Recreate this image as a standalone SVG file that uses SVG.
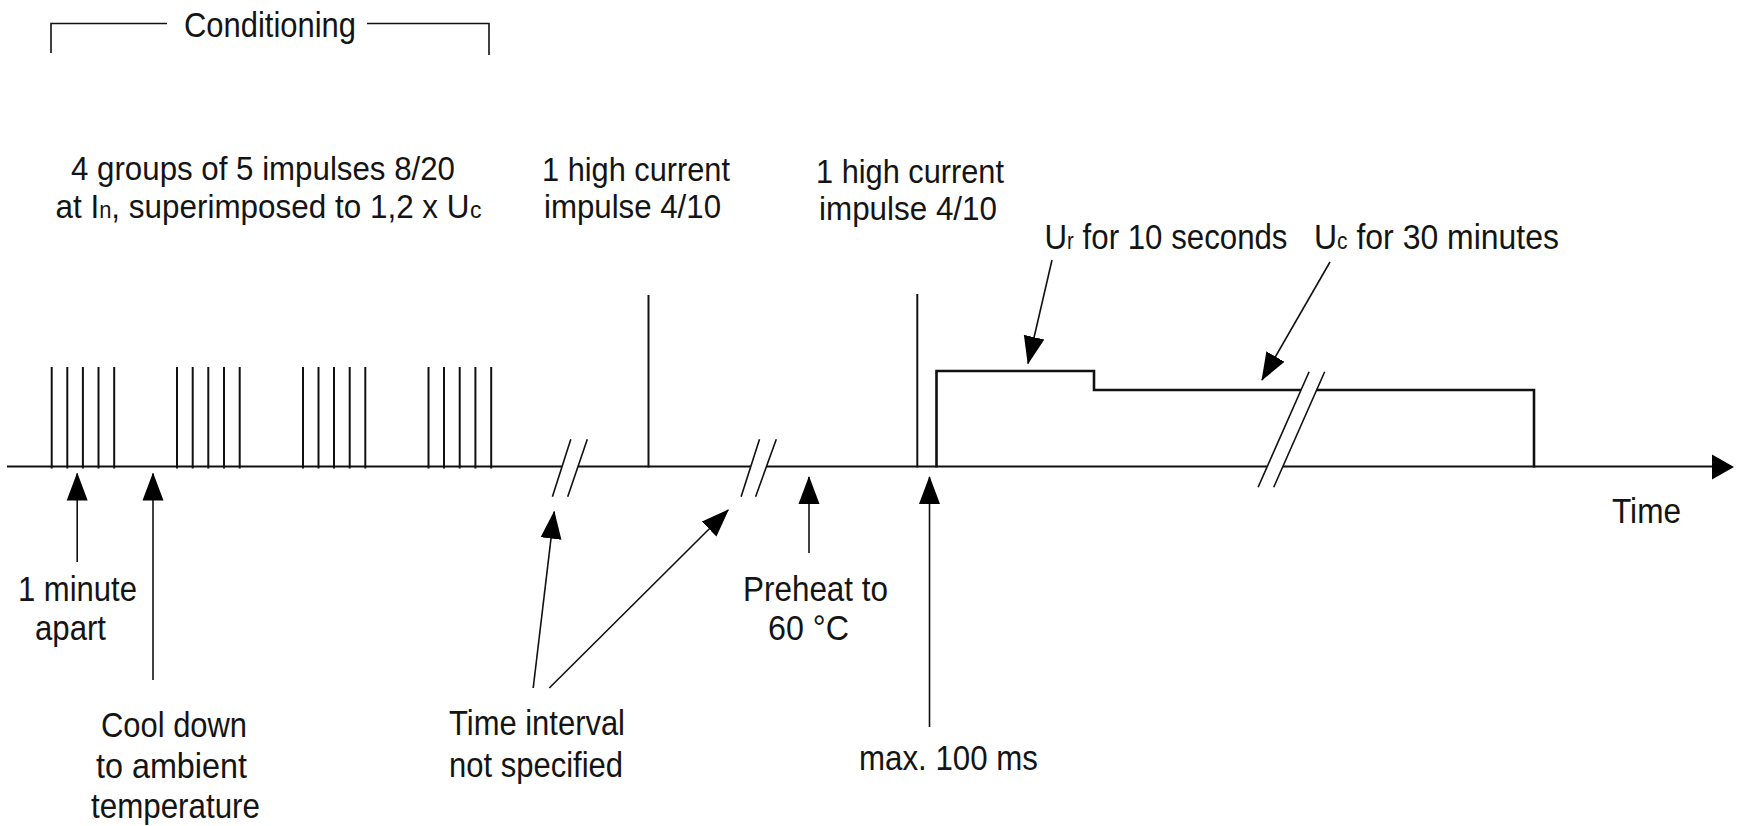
<svg xmlns="http://www.w3.org/2000/svg" width="1740" height="826" viewBox="0 0 1740 826">
<style>
  text { font-family: "Liberation Sans", Arial, sans-serif; font-size: 35px; fill: #141414; }
  .top { font-size: 33px; }
  .sub { font-size: 23px; }
  .ln { stroke: #111; stroke-width: 2; fill: none; }
  .thin { stroke: #111; stroke-width: 1.6; fill: none; }
  .wave { stroke: #111; stroke-width: 2.6; fill: none; stroke-linejoin: miter; }
  .ann { stroke: #111; stroke-width: 1.6; fill: none; marker-end: url(#ah); }
</style>
<defs>
  <marker id="ah" viewBox="0 0 28 22" refX="27" refY="11" markerWidth="28" markerHeight="22" orient="auto" markerUnits="userSpaceOnUse">
    <path d="M0,0.5 L28,11 L0,21.5 Z" fill="#000"/>
  </marker>
</defs>
<rect width="1740" height="826" fill="#fff"/>

<!-- Conditioning bracket -->
<g id="conditioning">
  <polyline class="thin" points="51,53 51,23.5 167,23.5"/>
  <polyline class="thin" points="367,23.5 489,23.5 489,55"/>
  <text x="184" y="37" textLength="172" lengthAdjust="spacingAndGlyphs">Conditioning</text>
</g>

<!-- Time axis -->
<g id="axis">
  <path class="ln" d="M7,466.5 H562 M578,466.5 H751 M767,466.5 H1267 M1283,466.5 H1714"/>
  <polygon points="1734,467 1712,454.5 1712,479.5" fill="#000"/>
  <text x="1612" y="523" textLength="69" lengthAdjust="spacingAndGlyphs">Time</text>
</g>

<!-- Break marks -->
<g id="breaks">
  <path class="thin" d="M552.4,496.7 L570.8,439.3 M567.7,496.7 L587.3,439.3"/>
  <path class="thin" d="M741.1,496.7 L759.5,439.3 M755.6,496.7 L776.3,439.3"/>
  <path class="thin" d="M1258.1,487.3 L1309.1,371.7 M1273.7,487.3 L1324.7,371.7"/>
</g>

<!-- Impulse groups 8/20 -->
<g id="impulse-groups">
  <path class="ln" d="M51.7,367 V468.5 M67.3,367 V468.5 M82.9,367 V468.5 M98.5,367 V468.5 M114.2,367 V468.5
                      M177,367 V468.5 M192.7,367 V468.5 M208.3,367 V468.5 M224,367 V468.5 M239.7,367 V468.5
                      M303,367 V468.5 M318.5,367 V468.5 M334,367 V468.5 M349.7,367 V468.5 M365.3,367 V468.5
                      M428.5,367 V468.5 M444,367 V468.5 M459.7,367 V468.5 M475.4,367 V468.5 M491.2,367 V468.5"/>
  <text class="top" x="71" y="180" textLength="384" lengthAdjust="spacingAndGlyphs">4 groups of 5 impulses 8/20</text>
  <text class="top" x="55.5" y="217.5" textLength="414" lengthAdjust="spacingAndGlyphs">at I<tspan class="sub">n</tspan>, superimposed to 1,2 x U</text>
  <text class="sub" x="470" y="217.5">c</text>
</g>

<!-- High current impulse 1 -->
<g id="impulse-hc-1">
  <path class="ln" d="M648.5,295 V467.5"/>
  <text class="top" x="542" y="181" textLength="188" lengthAdjust="spacingAndGlyphs">1 high current</text>
  <text class="top" x="544" y="218" textLength="177" lengthAdjust="spacingAndGlyphs">impulse 4/10</text>
</g>

<!-- High current impulse 2 -->
<g id="impulse-hc-2">
  <path class="ln" d="M917.3,294 V467.5"/>
  <text class="top" x="816" y="183" textLength="188" lengthAdjust="spacingAndGlyphs">1 high current</text>
  <text class="top" x="819" y="220" textLength="178" lengthAdjust="spacingAndGlyphs">impulse 4/10</text>
</g>

<!-- Voltage waveform Ur / Uc -->
<g id="voltage">
  <path class="wave" d="M936.5,467.5 V371 H1094 V390 H1301 M1316.6,390 H1534 V467.5"/>
  <text x="1044.5" y="249" textLength="243" lengthAdjust="spacingAndGlyphs">U<tspan class="sub">r</tspan> for 10 seconds</text>
  <text x="1314" y="249" textLength="245" lengthAdjust="spacingAndGlyphs">U<tspan class="sub">c</tspan> for 30 minutes</text>
</g>

<!-- Bottom labels -->
<g id="label-1-minute">
  <text x="18" y="600.5" textLength="119" lengthAdjust="spacingAndGlyphs">1 minute</text>
  <text x="35" y="640" textLength="71" lengthAdjust="spacingAndGlyphs">apart</text>
</g>
<g id="label-cool-down">
  <text x="101" y="737" textLength="146" lengthAdjust="spacingAndGlyphs">Cool down</text>
  <text x="96" y="778" textLength="151" lengthAdjust="spacingAndGlyphs">to ambient</text>
  <text x="91" y="818" textLength="169" lengthAdjust="spacingAndGlyphs">temperature</text>
</g>
<g id="label-time-interval">
  <text x="449" y="735" textLength="176" lengthAdjust="spacingAndGlyphs">Time interval</text>
  <text x="449" y="776.5" textLength="174" lengthAdjust="spacingAndGlyphs">not specified</text>
</g>
<g id="label-preheat">
  <text x="743" y="600.5" textLength="145" lengthAdjust="spacingAndGlyphs">Preheat to</text>
  <text x="768" y="640" textLength="81" lengthAdjust="spacingAndGlyphs">60 °C</text>
</g>
<g id="label-max">
  <text x="859" y="770" textLength="179" lengthAdjust="spacingAndGlyphs">max. 100 ms</text>
</g>

<!-- Connectors (annotation arrows) -->
<g id="connectors">
  <line class="ann" x1="77.2" y1="562" x2="77.2" y2="473.5"/>
  <line class="ann" x1="153" y1="680" x2="153" y2="473.5"/>
  <line class="ann" x1="533.2" y1="688" x2="554.2" y2="511.7"/>
  <line class="ann" x1="549.3" y1="688" x2="728.2" y2="510"/>
  <line class="ann" x1="809" y1="553" x2="809" y2="477"/>
  <line class="ann" x1="929.5" y1="727" x2="929.5" y2="477"/>
  <line class="ann" x1="1052" y1="260" x2="1028" y2="363.5"/>
  <line class="ann" x1="1330" y1="262" x2="1262" y2="380"/>
</g>
</svg>
